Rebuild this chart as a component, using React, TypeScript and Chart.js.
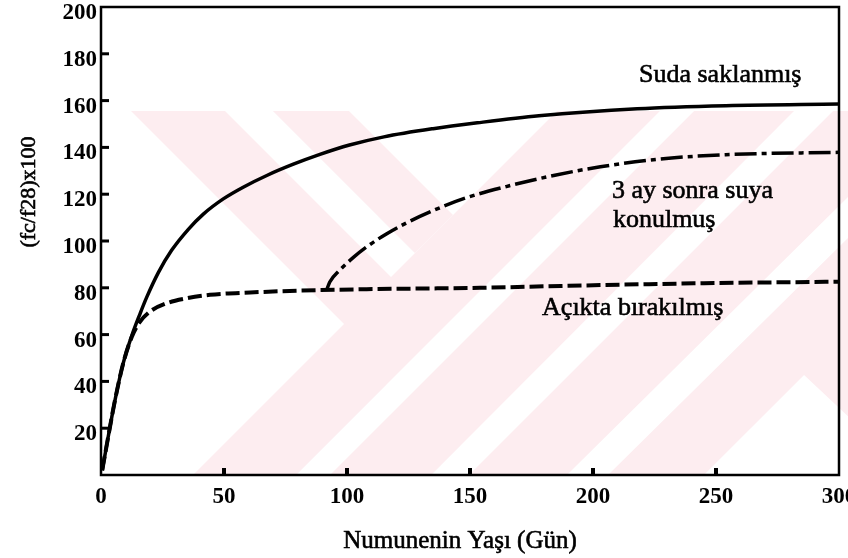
import React, { useEffect, useRef } from 'react';
import Chart from 'chart.js/auto';

// ---- data ----
const SUDA_DAYS = [0.5, 1.6, 5.7, 9.1, 12.5, 15.9, 18.6, 23.3, 28.7, 35.5, 41.6, 49.7, 57.8, 67.4, 78.2, 89, 101, 115, 135, 153, 178, 218, 254, 300];
const SUDA_VALUES = [2, 8.5, 32, 48, 59.5, 69, 76, 86.5, 96, 105, 111.5, 118, 123, 128, 132.8, 137, 141, 144.5, 148, 150.5, 153.5, 156.5, 157.8, 158.5];

const ACIKTA_DAYS = [0.5, 1.6, 5.7, 9.1, 12.5, 15.5, 19.9, 26.7, 34.8, 44.3, 60.6, 81, 108, 154, 187, 241, 300];
const ACIKTA_VALUES = [2, 8.5, 32, 48, 59, 65, 69.8, 73.4, 75.5, 77, 78, 78.8, 79.4, 80, 80.8, 81.9, 82.6];

const UC_AY_DAYS = [91.7, 93, 97, 102.6, 108, 116, 124.3, 135, 148, 166, 184, 203, 227, 254, 300];
const UC_AY_VALUES = [79, 82.5, 87.5, 93, 97.5, 103, 107.8, 113, 118.3, 123.6, 128, 131.7, 135, 136.9, 137.9];

const X_TICKS = [0, 50, 100, 150, 200, 250, 300];
const Y_TICKS = [0, 20, 40, 60, 80, 100, 120, 140, 160, 180, 200];

const X_TITLE = 'Numunenin Yaşı (Gün)';
const Y_TITLE = '(fc/f28)x100';

// curve labels: [text, day, value] (left edge / baseline, in data units)
const CURVE_LABELS: [string, number, number][] = [
  ['Suda saklanmış', 218.7, 167.8],
  ['3 ay sonra suya', 207.7, 118.4],
  ['konulmuş', 208.1, 105.8],
  ['Açıkta bırakılmış', 179.3, 68.4],
];

// faint background watermark, polygons in data units
const WATERMARK: [number, number][][] = [
  [[12.2, 155.6], [50.4, 155.6], [138.8, 62.6], [98.8, 64.5]],
  [[69.9, 155.6], [100.8, 155.6], [143.1, 111.1], [127.6, 94.9]],
  [[37.4, 0], [79.3, 0], [227.2, 155.6], [185.4, 155.6]],
  [[93.1, 0], [134.2, 0], [281.7, 155.6], [241.1, 155.6]],
  [[149.6, 0], [189.4, 0], [304.9, 120.1], [304.9, 155.6], [297.6, 155.6]],
  [[206.1, 0], [245.1, 0], [285.8, 42.7], [304.9, 23.9], [304.9, 102.6]],
];
const WATERMARK_COLOR = 'rgb(253,237,240)';

const SERIF = "'Liberation Serif', 'Times New Roman', serif";

const zip = (xs: number[], ys: number[]) => xs.map((x, i) => ({ x, y: ys[i] }));

const heavyText = (ctx: CanvasRenderingContext2D, t: string, x: number, y: number) => {
  ctx.fillText(t, x, y);
  ctx.strokeText(t, x, y);
};

const decorPlugin = {
  id: 'decor',
  beforeDraw(chart: any) {
    const { ctx, scales } = chart;
    const xs = scales.x, ys = scales.y;
    ctx.save();
    ctx.fillStyle = '#ffffff';
    ctx.fillRect(0, 0, chart.width, chart.height);
    ctx.fillStyle = WATERMARK_COLOR;
    for (const poly of WATERMARK) {
      ctx.beginPath();
      poly.forEach(([vx, vy], i) => {
        const px = xs.getPixelForValue(vx);
        const py = ys.getPixelForValue(vy);
        if (i === 0) ctx.moveTo(px, py); else ctx.lineTo(px, py);
      });
      ctx.closePath();
      ctx.fill();
    }
    ctx.restore();
  },
  afterDatasetsDraw(chart: any) {
    const { ctx, chartArea, scales } = chart;
    const { left, right, top, bottom } = chartArea;
    ctx.save();
    ctx.strokeStyle = '#000';
    ctx.lineWidth = 2.5;
    ctx.strokeRect(left, top, right - left, bottom - top);
    // inward tick marks
    ctx.lineWidth = 3;
    for (const v of Y_TICKS) {
      if (v === 0 || v === 200) continue;
      const py = scales.y.getPixelForValue(v);
      ctx.beginPath();
      ctx.moveTo(left, py);
      ctx.lineTo(left + 8, py);
      ctx.stroke();
    }
    ctx.lineWidth = 4;
    for (const v of X_TICKS) {
      if (v === 0 || v === 300) continue;
      const px = scales.x.getPixelForValue(v);
      ctx.beginPath();
      ctx.moveTo(px, bottom);
      ctx.lineTo(px, bottom - 7);
      ctx.stroke();
    }
    ctx.restore();
  },
  afterDraw(chart: any) {
    const { ctx, scales } = chart;
    ctx.save();
    ctx.fillStyle = '#000';
    ctx.strokeStyle = '#000';
    ctx.lineWidth = 0.6;
    ctx.textAlign = 'left';
    ctx.textBaseline = 'alphabetic';
    ctx.font = `26px ${SERIF}`;
    for (const [t, d, v] of CURVE_LABELS) {
      heavyText(ctx, t, scales.x.getPixelForValue(d), scales.y.getPixelForValue(v));
    }
    // axis titles
    ctx.font = `25px ${SERIF}`;
    ctx.textAlign = 'center';
    heavyText(ctx, X_TITLE, 460, 548);
    ctx.translate(29, 192);
    ctx.rotate(-Math.PI / 2);
    ctx.font = `22px ${SERIF}`;
    ctx.textBaseline = 'middle';
    heavyText(ctx, Y_TITLE, 0, 0);
    ctx.restore();
  },
};

export default function App() {
  const ref = useRef<HTMLCanvasElement | null>(null);
  useEffect(() => {
    if (!ref.current) return;
    const chart = new Chart(ref.current, {
      type: 'line',
      data: {
        datasets: [
          {
            label: 'Suda saklanmış',
            data: zip(SUDA_DAYS, SUDA_VALUES),
            borderColor: '#000',
            borderWidth: 3.5,
            pointRadius: 0,
            cubicInterpolationMode: 'monotone',
          },
          {
            label: 'Açıkta bırakılmış',
            data: zip(ACIKTA_DAYS, ACIKTA_VALUES),
            borderColor: '#000',
            borderWidth: 4,
            borderDash: [14, 5],
            pointRadius: 0,
            cubicInterpolationMode: 'monotone',
          },
          {
            label: '3 ay sonra suya konulmuş',
            data: zip(UC_AY_DAYS, UC_AY_VALUES),
            borderColor: '#000',
            borderWidth: 3.5,
            borderDash: [22, 5, 5, 5],
            pointRadius: 0,
            cubicInterpolationMode: 'monotone',
          },
        ],
      },
      options: {
        animation: false,
        responsive: false,
        layout: { padding: { top: 7, right: 9, left: 0, bottom: 0 } },
        plugins: { legend: { display: false }, tooltip: { enabled: false } },
        scales: {
          x: {
            type: 'linear',
            min: 0,
            max: 300,
            afterBuildTicks: (s: any) => { s.ticks = X_TICKS.map((value) => ({ value })); },
            afterFit: (s: any) => { s.height = 83; s.paddingLeft = 0; s.paddingRight = 0; },
            grid: { display: false, drawTicks: false },
            border: { display: false },
            ticks: {
              color: '#000',
              padding: 8,
              maxRotation: 0,
              autoSkip: false,
              font: { family: SERIF, size: 23, weight: 'bold' },
            },
          },
          y: {
            type: 'linear',
            min: 0,
            max: 200,
            afterBuildTicks: (s: any) => { s.ticks = Y_TICKS.map((value) => ({ value })); },
            afterFit: (s: any) => { s.width = 101; s.paddingTop = 0; s.paddingBottom = 0; },
            grid: { display: false, drawTicks: false },
            border: { display: false },
            ticks: {
              color: '#000',
              padding: 4,
              labelOffset: 6,
              autoSkip: false,
              font: { family: SERIF, size: 23, weight: 'bold' },
              callback: (v: any) => (Number(v) === 0 ? '' : String(v)),
            },
          },
        },
      },
      plugins: [decorPlugin],
    } as any);
    return () => chart.destroy();
  }, []);
  return (
    <div style={{ position: 'fixed', left: 0, top: 0, width: 848, height: 558, overflow: 'hidden', background: '#fff' }}>
      <canvas ref={ref} width={848} height={558} style={{ display: 'block', width: 848, height: 558 }} />
    </div>
  );
}
